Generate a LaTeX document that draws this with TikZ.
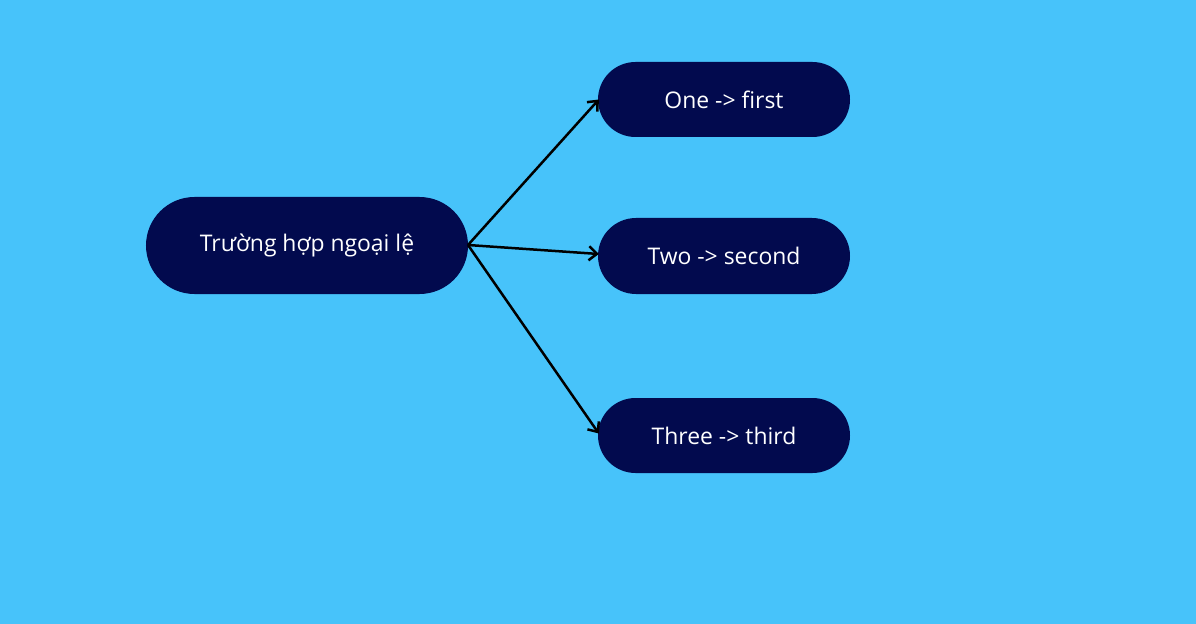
\documentclass[tikz,border=0pt]{standalone}
\usepackage{fontspec}
\setmainfont{Open Sans}
\usetikzlibrary{arrows.meta}
\definecolor{bg}{HTML}{47C3FA}
\definecolor{nd}{HTML}{020A4E}
\begin{document}
\begin{tikzpicture}[x=1bp,y=-1bp,
  box/.style={rounded rectangle, fill=nd, text=white, font=\fontsize{23}{27}\selectfont, inner sep=0pt},
  arr/.style={line width=2.5bp, -{Straight Barb[length=8bp,width=14bp]}}]
\fill[bg] (0,0) rectangle (1196,624);
\useasboundingbox (0,0) rectangle (1196,624);
\node[fill=nd, rounded corners=37.5bp, minimum width=252bp, minimum height=75bp, text=white, font=\fontsize{23}{27}\selectfont] (one) at (724,99.5) {One -> first};
\node[fill=nd, rounded corners=38bp, minimum width=252bp, minimum height=76bp, text=white, font=\fontsize{23}{27}\selectfont] (two) at (724,256) {Two -> second};
\node[fill=nd, rounded corners=37.5bp, minimum width=252bp, minimum height=75bp, text=white, font=\fontsize{23}{27}\selectfont] (three) at (724,435.5) {Three -> third};
\node[fill=nd, rounded corners=48.5bp, minimum width=322bp, minimum height=97bp, text=white, font=\fontsize{23}{27}\selectfont] (main) at (307,245.5) {Trường hợp ngoại lệ};
\coordinate (s) at (468,245);
\draw[arr] (s) -- ([xshift=1bp]one.west);
\draw[arr] (s) -- ([xshift=1bp,yshift=2bp]two.west);
\draw[arr] (s) -- ([xshift=1bp,yshift=2bp]three.west);
\end{tikzpicture}
\end{document}
